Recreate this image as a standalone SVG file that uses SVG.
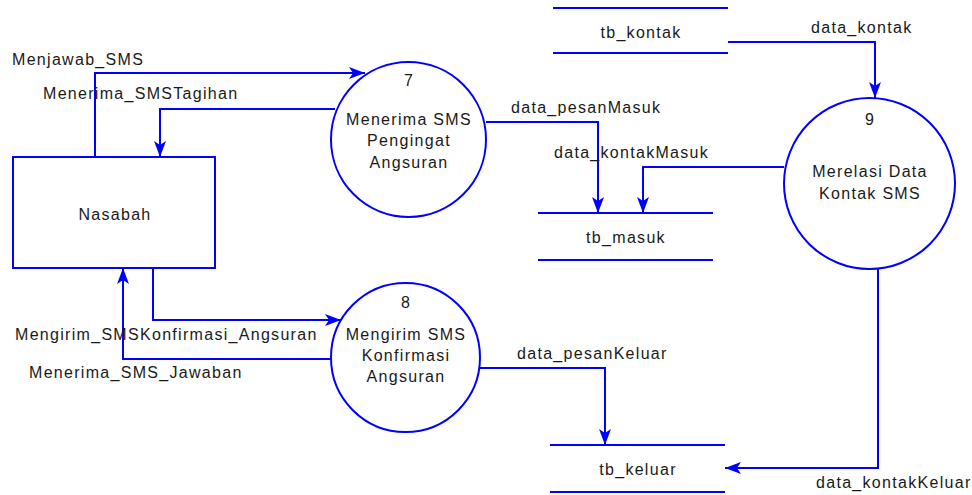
<svg xmlns="http://www.w3.org/2000/svg" width="972" height="495" viewBox="0 0 972 495">
  <style>
    .shape { fill: #ffffff; stroke: #0000ff; stroke-width: 2; }
    .store { stroke: #0000ff; stroke-width: 2; fill: none; }
    .flow { fill: none; stroke: #0000ff; stroke-width: 2; marker-end: url(#arrow); }
    text { font-family: "Liberation Sans", Arial, sans-serif; font-size: 16px; fill: #1a1a1a; letter-spacing: 1.3px; }
    .c { text-anchor: middle; }
  </style>
  <defs>
    <marker id="arrow" markerUnits="userSpaceOnUse" markerWidth="20" markerHeight="16" refX="16" refY="6" orient="auto" viewBox="0 0 20 12">
      <path d="M16,6 L0,0 L4,6 L0,12 Z" fill="#0000ff"/>
    </marker>
  </defs>
  <rect width="972" height="495" fill="#ffffff"/>

  <!-- data flows -->
  <g id="connectors">
    <polyline class="flow" points="95,157 95,73 365,73"/>
    <polyline class="flow" points="335,109 160,109 160,157"/>
    <polyline class="flow" points="486,122 598,122 598,213"/>
    <polyline class="flow" points="784,167 643,167 643,213"/>
    <polyline class="flow" points="728,42 875,42 875,98"/>
    <polyline class="flow" points="153,268 153,320 341,320"/>
    <polyline class="flow" points="332,359 123,359 123,268"/>
    <polyline class="flow" points="480,368 605,368 605,445"/>
    <polyline class="flow" points="878,269 878,468 725,468"/>
    <text x="12" y="65">Menjawab_SMS</text>
    <text x="43" y="99">Menerima_SMSTagihan</text>
    <text x="511" y="113">data_pesanMasuk</text>
    <text x="554" y="158">data_kontakMasuk</text>
    <text x="811" y="33">data_kontak</text>
    <text x="15" y="340">Mengirim_SMSKonfirmasi_Angsuran</text>
    <text x="29" y="378">Menerima_SMS_Jawaban</text>
    <text x="517" y="359">data_pesanKeluar</text>
    <text x="816" y="488">data_kontakKeluar</text>
  </g>

  <!-- external entity -->
  <g id="nasabah">
    <rect class="shape" x="13" y="157" width="202" height="111"/>
    <text class="c" x="115" y="220">Nasabah</text>
  </g>

  <!-- processes -->
  <g id="proses7">
    <circle class="shape" cx="408.5" cy="139.5" r="77.5"/>
    <text class="c" x="409" y="86">7</text>
    <text class="c" x="409" y="125">Menerima SMS</text>
    <text class="c" x="409" y="146">Pengingat</text>
    <text class="c" x="409" y="168">Angsuran</text>
  </g>
  <g id="proses8">
    <circle class="shape" cx="405.5" cy="357.5" r="74.5"/>
    <text class="c" x="406" y="308">8</text>
    <text class="c" x="406" y="340">Mengirim SMS</text>
    <text class="c" x="406" y="361">Konfirmasi</text>
    <text class="c" x="406" y="382">Angsuran</text>
  </g>
  <g id="proses9">
    <circle class="shape" cx="869.5" cy="183.5" r="85.5"/>
    <text class="c" x="870" y="125">9</text>
    <text class="c" x="870" y="177">Merelasi Data</text>
    <text class="c" x="870" y="199">Kontak SMS</text>
  </g>

  <!-- data stores -->
  <g id="tb_kontak">
    <line class="store" x1="553" y1="8" x2="728" y2="8"/>
    <line class="store" x1="553" y1="53" x2="728" y2="53"/>
    <text class="c" x="641" y="38">tb_kontak</text>
  </g>
  <g id="tb_masuk">
    <line class="store" x1="538" y1="213" x2="713" y2="213"/>
    <line class="store" x1="538" y1="260" x2="713" y2="260"/>
    <text class="c" x="626" y="243">tb_masuk</text>
  </g>
  <g id="tb_keluar">
    <line class="store" x1="550" y1="445" x2="725" y2="445"/>
    <line class="store" x1="550" y1="492" x2="725" y2="492"/>
    <text class="c" x="638" y="475">tb_keluar</text>
  </g>
</svg>
